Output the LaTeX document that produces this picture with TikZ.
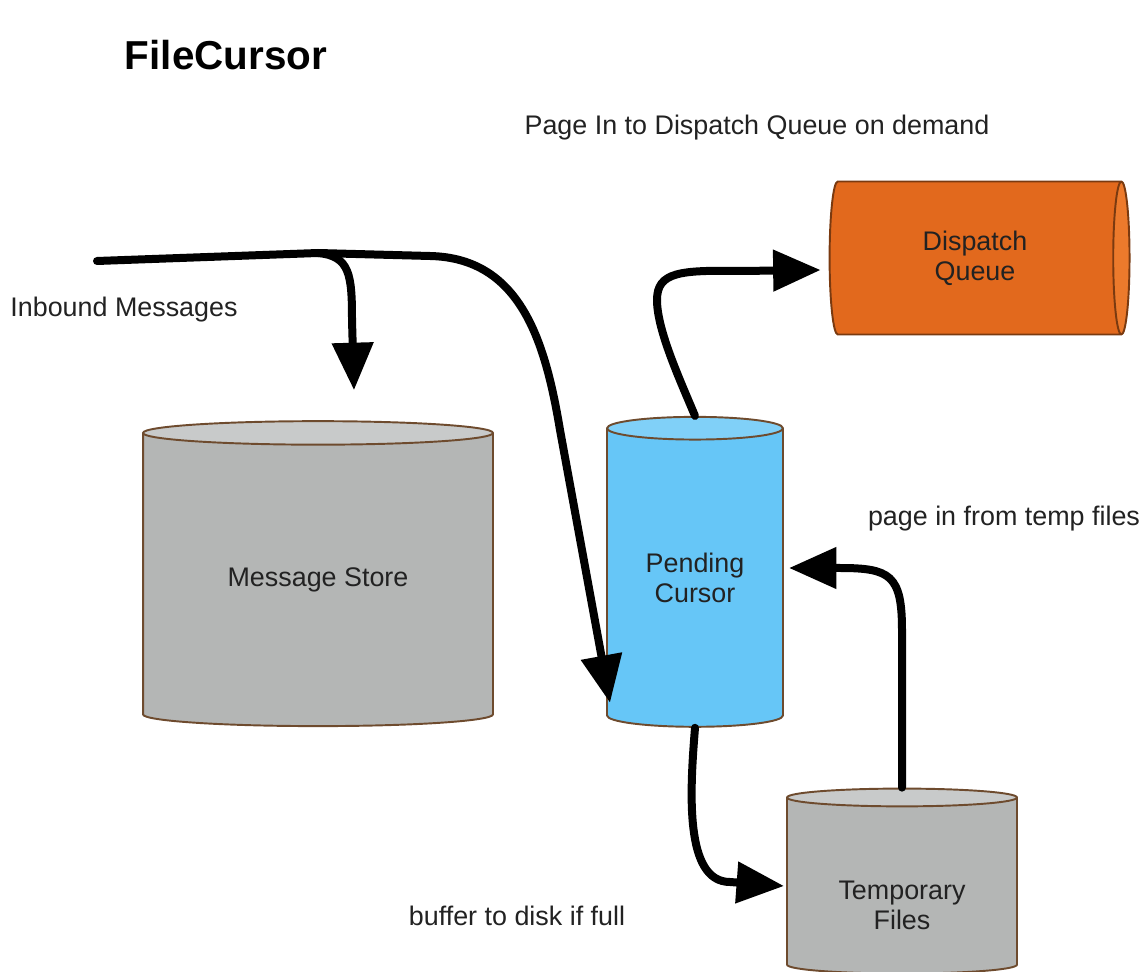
\documentclass[tikz,border=0pt]{standalone}
\usepackage{fontspec}
\setmainfont{Liberation Sans}
\usetikzlibrary{shapes.geometric,arrows.meta,calc}

\definecolor{cylgray}{HTML}{B4B6B5}
\definecolor{cylgraytop}{HTML}{C8CACA}
\definecolor{cylbrown}{HTML}{6E4B2E}
\definecolor{cylblue}{HTML}{66C6F7}
\definecolor{cylbluetop}{HTML}{80D0F8}
\definecolor{cylorange}{HTML}{E2691D}
\definecolor{cylorangetop}{HTML}{EC7A2C}
\definecolor{cylorangeline}{HTML}{7A3A10}
\definecolor{lbltext}{HTML}{222222}

\tikzset{
  store/.style={cylinder, draw=cylbrown, line width=1.1pt, inner sep=0pt,
    cylinder uses custom fill, align=center, text=lbltext,
    font=\fontsize{15.3pt}{17pt}\selectfont},
  graystore/.style={store, shape border rotate=90,
    cylinder body fill=cylgray, cylinder end fill=cylgraytop},
  lbl/.style={inner sep=0pt, text=lbltext, font=\fontsize{15.3pt}{17pt}\selectfont},
  flow/.style={line width=0.16cm, line cap=round,
    -{Triangle[length=0.95cm,width=0.8cm]}}
}

\begin{document}
\begin{tikzpicture}[x=0.02cm,y=-0.02cm]
  \useasboundingbox (0,0) rectangle (1146,972);

  \node[font=\bfseries\fontsize{23pt}{26pt}\selectfont] (title) at (226,55) {FileCursor};
  \node[lbl] (pagein) at (757,128) {Page In to Dispatch Queue on demand};
  \node[lbl] (inbound) at (124,310) {Inbound Messages};
  \node[lbl] (fromtemp) at (1004,519) {page in from temp files};
  \node[lbl] (buffer) at (517,916) {buffer to disk if full};

  \node[graystore, minimum width=7cm, minimum height=6.1cm, aspect=0.13]
    (ms) at (318,580) {Message Store};
  \node[store, shape border rotate=90, cylinder body fill=cylblue,
    cylinder end fill=cylbluetop, minimum width=3.52cm, minimum height=6.2cm, aspect=0.23]
    (pend) at (695,578) {Pending\\Cursor};
  \node[graystore, minimum width=4.6cm, minimum height=3.7cm, aspect=0.14]
    (tf) at (902,886) {\raisebox{-0.58cm}[0.2cm][0.2cm]{\begin{tabular}{@{}c@{}}Temporary\\Files\end{tabular}}};
  \node[store, draw=cylorangeline, cylinder body fill=cylorange,
    cylinder end fill=cylorangetop, minimum height=6cm, minimum width=3.06cm, aspect=0.3]
    (dq) at (975,258) {Dispatch\\Queue};

  \coordinate (in) at (97,261);
  \coordinate (split) at (318,253);
  \coordinate (mstip) at ($(ms.north)+(36,-30)$);

  \draw[line width=0.16cm, line cap=round] (in) -- (split);
  \draw[flow] (split) .. controls (350,256) and (352,275) .. (352,320) -- (mstip);
  \draw[flow] (split) -- (430,256) .. controls (520,258) and (545,340) .. (560,430)
    -- ($(pend.south)+(-85,-25)$);
  \draw[flow] (pend.north) .. controls (680,380) and (657,330) .. (657,300)
    .. controls (657,272) and (680,270) .. (740,271) -- ($(dq.west)+(-8,12)$);
  \draw[flow] (pend.south) .. controls (690,790) and (684,882) .. (730,882)
    -- ($(tf.west)+(-2,0)$);
  \draw[flow] (tf.north) -- (902,630) .. controls (902,575) and (890,568) .. (840,568)
    -- ($(pend.east)+(5,-10)$);
\end{tikzpicture}
\end{document}
